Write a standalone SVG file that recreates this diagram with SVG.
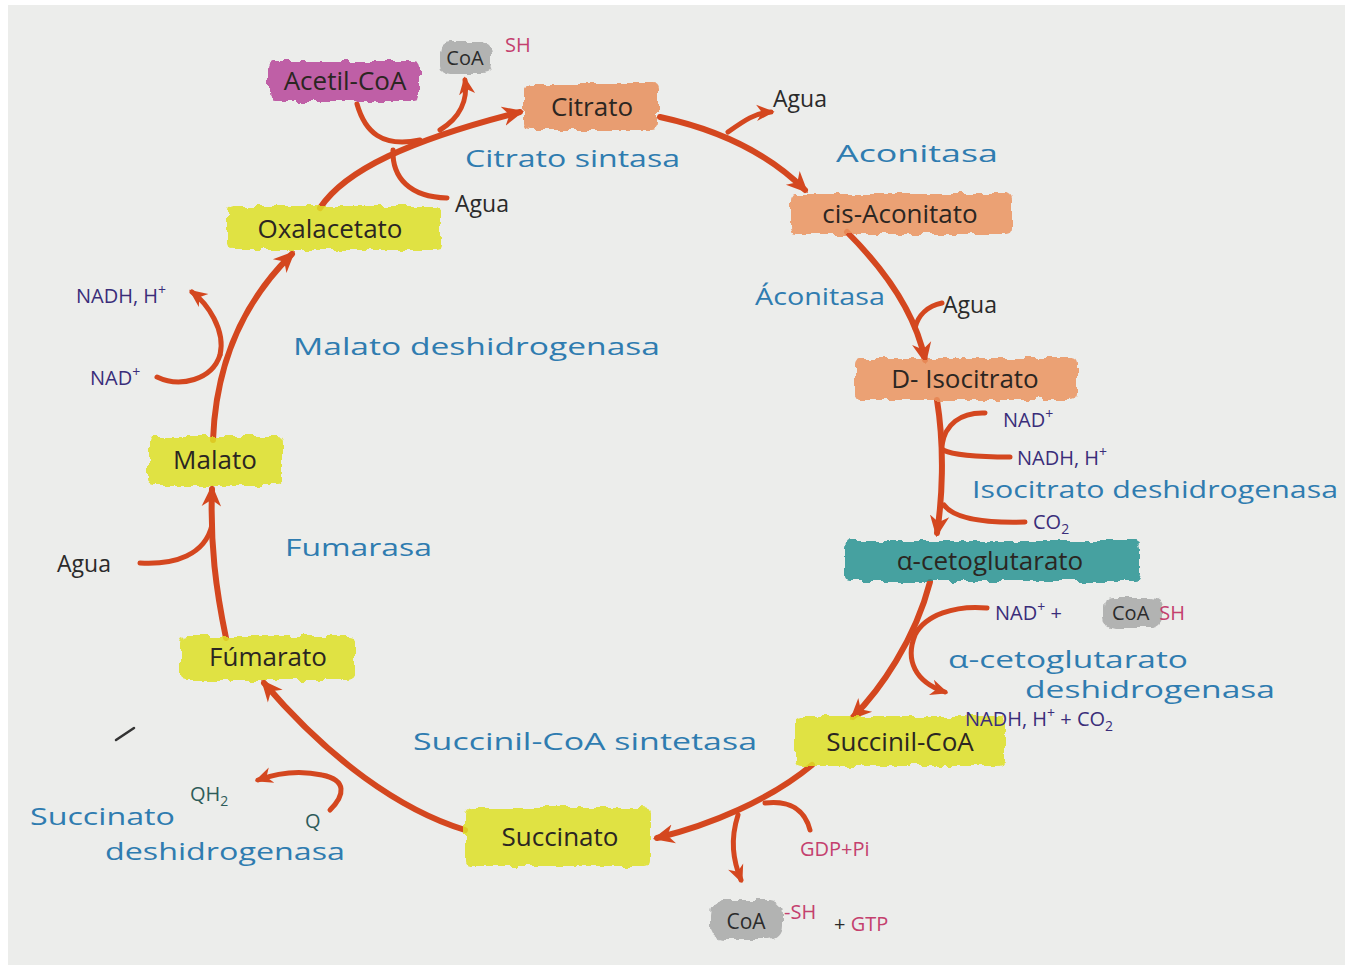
<svg xmlns="http://www.w3.org/2000/svg" width="1350" height="970" viewBox="0 0 1350 970">
<defs>
<filter id="rough" x="-10%" y="-30%" width="120%" height="160%">
<feTurbulence type="fractalNoise" baseFrequency="0.09" numOctaves="2" seed="3" result="t"/>
<feDisplacementMap in="SourceGraphic" in2="t" scale="9" xChannelSelector="R" yChannelSelector="G"/>
</filter>
<marker id="ah" viewBox="0 0 10 10" refX="8" refY="5" markerWidth="3.6" markerHeight="3.6" orient="auto" markerUnits="strokeWidth">
<path d="M0,0.5 L10,5 L0,9.5 L3,5 Z" fill="#d4471f"/>
</marker>
<style>
.t{font-family:"Open Sans","Liberation Sans",sans-serif}
.n{font-size:26px;fill:#2b2622;text-anchor:middle}
.e{font-size:24px;fill:#2f7cb0}
.k{font-size:23px;fill:#2a2a2a}
.p{font-size:20px;fill:#3a2d7a}
.r{font-size:20px;fill:#c4406e}
.q{font-size:20px;fill:#2e5c5a}
.a{fill:none;stroke:#d4471f;stroke-width:6;stroke-linecap:round}
.b{fill:none;stroke:#d4471f;stroke-width:5;stroke-linecap:round}
.hl{filter:url(#rough);opacity:0.85}
</style>
</defs>
<rect x="0" y="0" width="1350" height="970" fill="#ffffff"/>
<rect x="8" y="5" width="1337" height="960" fill="#ecedeb"/>

<g id="connectors">
<path class="a" d="M320,208 C345,170 410,140 520,112" marker-end="url(#ah)"/>
<path class="b" d="M357,104 C365,132 382,148 420,140"/>
<path class="b" d="M440,130 C460,118 468,100 465,80" marker-end="url(#ah)"/>
<path class="b" d="M393,150 C392,178 410,197 447,198"/>
<path class="a" d="M660,117 C720,130 770,155 805,190" marker-end="url(#ah)"/>
<path class="b" d="M728,132 C745,120 755,113 771,112" marker-end="url(#ah)"/>
<path class="a" d="M847,232 C880,265 915,310 925,360" marker-end="url(#ah)"/>
<path class="b" d="M942,303 C928,306 918,315 915,328"/>
<path class="a" d="M937,400 C945,450 942,500 937,533" marker-end="url(#ah)"/>
<path class="b" d="M985,413 C960,412 945,425 942,445"/>
<path class="b" d="M943,450 C955,456 985,457 1010,457"/>
<path class="b" d="M944,505 C955,520 990,523 1025,522"/>
<path class="a" d="M930,582 C915,640 880,690 853,717" marker-end="url(#ah)"/>
<path class="b" d="M987,608 C955,605 925,615 915,635 C905,660 915,682 945,692" marker-end="url(#ah)"/>
<path class="a" d="M812,765 C770,800 710,825 657,838" marker-end="url(#ah)"/>
<path class="b" d="M810,830 C805,810 790,800 765,803"/>
<path class="b" d="M738,815 C730,840 733,860 741,880" marker-end="url(#ah)"/>
<path class="a" d="M465,830 C400,810 330,760 264,683" marker-end="url(#ah)"/>
<path class="b" d="M330,810 C345,795 347,780 322,775 C300,770 280,772 258,780" marker-end="url(#ah)"/>
<path class="a" d="M226,638 C216,590 210,545 212,489" marker-end="url(#ah)"/>
<path class="b" d="M140,563 C175,565 205,555 212,525"/>
<path class="a" d="M213,440 C216,360 245,300 292,254" marker-end="url(#ah)"/>
<path class="b" d="M157,377 C180,388 212,380 220,355"/>
<path class="b" d="M220,355 C226,330 207,303 192,292" marker-end="url(#ah)"/>
<path d="M116,740 L134,728" stroke="#333" stroke-width="2.5" stroke-linecap="round"/>
</g>

<g id="acetil-coa">
<rect class="hl" x="268" y="61" width="152" height="40" rx="6" fill="#b8479a"/>
<text class="t n" x="345" y="90" font-size="24">Acetil-CoA</text>
</g>
<g id="coa-sh-1">
<rect class="hl" x="440" y="42" width="52" height="32" rx="10" fill="#a9a9a9"/>
<text class="t" x="465" y="65" font-size="20" fill="#2b2b2b" text-anchor="middle">CoA</text>
<text class="t r" x="505" y="52" font-size="19">SH</text>
</g>
<g id="citrato">
<rect class="hl" x="524" y="84" width="134" height="46" rx="6" fill="#e8905c"/>
<text class="t n" x="592" y="116">Citrato</text>
</g>
<g id="cis-aconitato">
<rect class="hl" x="790" y="194" width="222" height="40" rx="6" fill="#eb9461"/>
<text class="t n" x="900" y="223">cis-Aconitato</text>
</g>
<g id="d-isocitrato">
<rect class="hl" x="855" y="358" width="222" height="42" rx="6" fill="#eb9461"/>
<text class="t n" x="965" y="388">D- Isocitrato</text>
</g>
<g id="alfa-cetoglutarato">
<rect class="hl" x="845" y="541" width="295" height="40" rx="6" fill="#2c9494"/>
<text class="t n" x="990" y="570">α-cetoglutarato</text>
</g>
<g id="succinil-coa">
<rect class="hl" x="795" y="716" width="210" height="50" rx="6" fill="#dfe125"/>
<text class="t n" x="900" y="751">Succinil-CoA</text>
</g>
<g id="succinato">
<rect class="hl" x="465" y="808" width="185" height="58" rx="6" fill="#dfe125"/>
<text class="t n" x="560" y="846">Succinato</text>
</g>
<g id="fumarato">
<rect class="hl" x="180" y="636" width="175" height="44" rx="6" fill="#dfe125"/>
<text class="t n" x="268" y="666">Fúmarato</text>
</g>
<g id="malato">
<rect class="hl" x="148" y="436" width="135" height="50" rx="6" fill="#dfe125"/>
<text class="t n" x="215" y="469">Malato</text>
</g>
<g id="oxalacetato">
<rect class="hl" x="228" y="206" width="212" height="44" rx="6" fill="#dfe125"/>
<text class="t n" x="330" y="238">Oxalacetato</text>
</g>

<g id="labels">
<text class="t e" x="465" y="167" textLength="215" lengthAdjust="spacingAndGlyphs">Citrato sintasa</text>
<text class="t e" x="836" y="162" textLength="162" lengthAdjust="spacingAndGlyphs">Aconitasa</text>
<text class="t e" x="755" y="305" textLength="130" lengthAdjust="spacingAndGlyphs">Áconitasa</text>
<text class="t e" x="972" y="498" textLength="366" lengthAdjust="spacingAndGlyphs">Isocitrato deshidrogenasa</text>
<text class="t e" x="948" y="668" textLength="240" lengthAdjust="spacingAndGlyphs">α-cetoglutarato</text>
<text class="t e" x="1025" y="698" textLength="250" lengthAdjust="spacingAndGlyphs">deshidrogenasa</text>
<text class="t e" x="413" y="750" textLength="344" lengthAdjust="spacingAndGlyphs">Succinil-CoA sintetasa</text>
<text class="t e" x="30" y="825" textLength="145" lengthAdjust="spacingAndGlyphs">Succinato</text>
<text class="t e" x="105" y="860" textLength="240" lengthAdjust="spacingAndGlyphs">deshidrogenasa</text>
<text class="t e" x="285" y="556" textLength="147" lengthAdjust="spacingAndGlyphs">Fumarasa</text>
<text class="t e" x="293" y="355" textLength="367" lengthAdjust="spacingAndGlyphs">Malato deshidrogenasa</text>

<text class="t k" x="455" y="212">Agua</text>
<text class="t k" x="773" y="107">Agua</text>
<text class="t k" x="943" y="313">Agua</text>
<text class="t k" x="57" y="572">Agua</text>

<text class="t p" x="76" y="303">NADH, H<tspan dy="-8" font-size="14">+</tspan></text>
<text class="t p" x="90" y="385">NAD<tspan dy="-8" font-size="14">+</tspan></text>
<text class="t p" x="1003" y="427">NAD<tspan dy="-8" font-size="14">+</tspan></text>
<text class="t p" x="1017" y="465">NADH, H<tspan dy="-8" font-size="14">+</tspan></text>
<text class="t p" x="1033" y="529">CO<tspan dy="5" font-size="14">2</tspan></text>

<rect class="hl" x="1104" y="598" width="58" height="30" rx="10" fill="#a9a9a9"/>
<text class="t p" x="995" y="620">NAD<tspan dy="-8" font-size="14">+</tspan><tspan dy="8"> + </tspan><tspan fill="#2b2b2b" x="1112">CoA</tspan><tspan class="r" dx="10">SH</tspan></text>
<text class="t p" x="965" y="726">NADH, H<tspan dy="-8" font-size="14">+</tspan><tspan dy="8"> + CO</tspan><tspan dy="5" font-size="14">2</tspan></text>

<text class="t q" x="190" y="801">QH<tspan dy="5" font-size="14">2</tspan></text>
<text class="t q" x="305" y="828">Q</text>

<text class="t r" x="800" y="856">GDP+Pi</text>
<rect class="hl" x="710" y="900" width="72" height="40" rx="14" fill="#a9a9a9"/>
<text class="t" x="746" y="929" font-size="21" fill="#2b2b2b" text-anchor="middle">CoA</text>
<text class="t r" x="784" y="919" font-size="16">-SH</text>
<text class="t r" x="834" y="931"><tspan fill="#2b2b2b">+</tspan> GTP</text>
</g>
</svg>
